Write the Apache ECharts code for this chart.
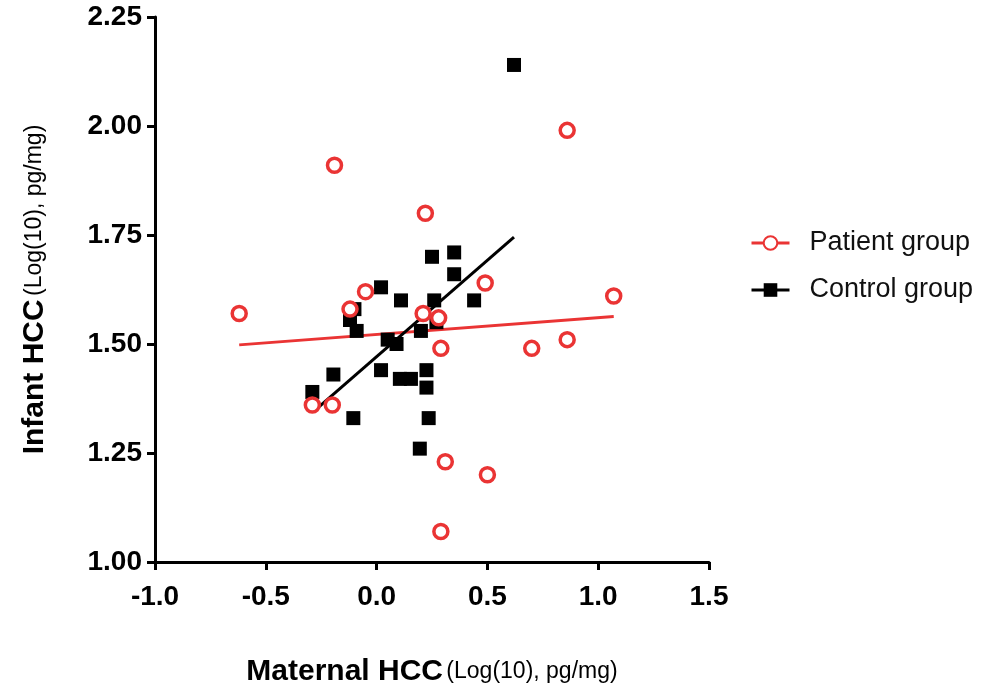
<!DOCTYPE html>
<html>
<head>
<meta charset="utf-8">
<script src="https://cdn.jsdelivr.net/npm/echarts@6/dist/echarts.min.js"></script>
<style>
  html, body { margin: 0; padding: 0; background: #fff; }
  #main { width: 988px; height: 694px; }
</style>
</head>
<body>
<div id="main"></div>
<script>
// 数据：母亲 HCC (x) 与 婴儿 HCC (y)，log10
var patientX = [-0.62, -0.19, 0.22, 0.86, -0.12, -0.05, 0.21, 0.28, 0.29, 0.49, 0.70, 0.86, 1.07, -0.29, -0.20, 0.31, 0.50, 0.29];
var patientY = [1.57, 1.91, 1.80, 1.99, 1.58, 1.62, 1.57, 1.56, 1.49, 1.64, 1.49, 1.51, 1.61, 1.36, 1.36, 1.23, 1.20, 1.07];

var controlX = [0.62, 0.25, 0.35, 0.35, 0.02, 0.11, 0.26, 0.44, -0.10, -0.12, -0.09, 0.05, 0.09, 0.20, 0.27, -0.195, -0.29, -0.105, 0.02, 0.105, 0.155, 0.225, 0.225, 0.235, 0.195];
var controlY = [2.14, 1.70, 1.71, 1.66, 1.63, 1.60, 1.60, 1.60, 1.58, 1.555, 1.53, 1.51, 1.50, 1.53, 1.55, 1.43, 1.39, 1.33, 1.44, 1.42, 1.42, 1.44, 1.40, 1.33, 1.26];

// 回归线端点
var patientFitX = [-0.62, 1.07];
var patientFitY = [1.498, 1.563];
var controlFitX = [-0.285, 0.62];
var controlFitY = [1.345, 1.745];

var xTicks = { min: -1, max: 1.5, step: 0.5 };
var yTicks = { min: 1, max: 2.25, step: 0.25 };

var RED = '#ea3434';
var BLACK = '#000000';

function pairs(xs, ys) {
    var out = [];
    for (var i = 0; i < xs.length; i++) {
        out.push([xs[i], ys[i]]);
    }
    return out;
}

var myChart = echarts.init(document.getElementById('main'));

var axisCommon = {
    axisLine: { show: true, onZero: false, lineStyle: { color: BLACK, width: 3 } },
    axisTick: { show: true, inside: false, length: 8, lineStyle: { color: BLACK, width: 3 } },
    splitLine: { show: false }
};

var titleRich = {
    b: { fontSize: 30, fontWeight: 'bold', color: BLACK },
    n: { fontSize: 23, color: BLACK }
};

option = {
    animation: false,
    backgroundColor: '#fff',
    textStyle: { fontFamily: 'Liberation Sans, Arial, sans-serif' },
    grid: {
        left: 155,
        top: 17,
        width: 554,
        height: 545,
        containLabel: false
    },
    legend: {
        data: ['Patient group', 'Control group'],
        orient: 'vertical',
        left: 745,
        top: 224,
        itemWidth: 38,
        itemHeight: 17,
        itemGap: 19,
        lineStyle: { width: 3 },
        textStyle: {
            color: '#111',
            fontSize: 27,
            lineHeight: 28,
            padding: [0, 0, 0, 15]
        }
    },
    xAxis: Object.assign({
        type: 'value',
        min: xTicks.min,
        max: xTicks.max,
        interval: xTicks.step,
        name: '{b|Maternal HCC} {n|(Log(10), pg/mg)}',
        nameLocation: 'middle',
        nameGap: 95,
        nameTextStyle: { rich: titleRich },
        axisLabel: {
            margin: 21,
            fontSize: 28,
            fontWeight: 'bold',
            color: BLACK,
            formatter: function (v) { return v.toFixed(1); }
        }
    }, axisCommon),
    yAxis: Object.assign({
        type: 'value',
        min: yTicks.min,
        max: yTicks.max,
        interval: yTicks.step,
        name: '{b|Infant HCC} {n|(Log(10), pg/mg)}',
        nameLocation: 'middle',
        nameRotate: 90,
        nameGap: 105,
        nameTextStyle: { rich: titleRich },
        axisLabel: {
            margin: 13,
            fontSize: 28,
            fontWeight: 'bold',
            color: BLACK,
            formatter: function (v) { return v.toFixed(2); }
        }
    }, axisCommon),
    series: [
        {
            // 回归线放前面，图例图标取自它（线+符号）
            name: 'Patient group',
            type: 'line',
            z: 1,
            data: pairs(patientFitX, patientFitY),
            showSymbol: false,
            symbol: 'emptyCircle',
            symbolSize: 14,
            itemStyle: { color: RED },
            lineStyle: { color: RED, width: 3 },
            silent: true
        },
        {
            name: 'Control group',
            type: 'line',
            z: 3,
            data: pairs(controlFitX, controlFitY),
            showSymbol: false,
            symbol: 'rect',
            symbolSize: 14,
            itemStyle: { color: BLACK },
            lineStyle: { color: BLACK, width: 3 },
            silent: true
        },
        {
            name: 'Control group',
            type: 'scatter',
            z: 2,
            symbol: 'rect',
            symbolSize: 14,
            itemStyle: { color: BLACK, opacity: 1 },
            data: pairs(controlX, controlY)
        },
        {
            name: 'Patient group',
            type: 'scatter',
            z: 4,
            symbol: 'circle',
            symbolSize: 14,
            itemStyle: { color: '#fff', borderColor: RED, borderWidth: 3.5, opacity: 1 },
            data: pairs(patientX, patientY)
        }
    ]
};

myChart.setOption(option);
</script>
</body>
</html>
